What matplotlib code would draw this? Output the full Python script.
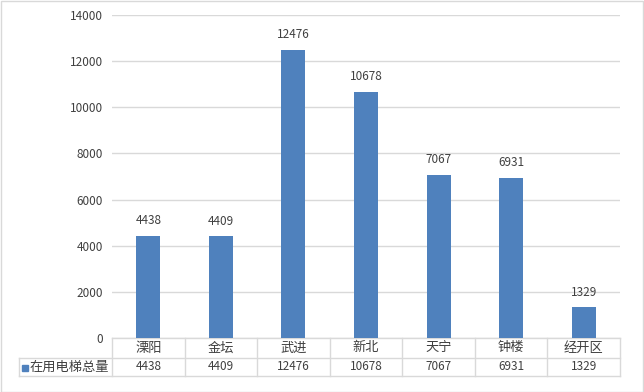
import matplotlib
matplotlib.use('Agg')
import matplotlib.pyplot as plt
from matplotlib.patches import Rectangle
from matplotlib.transforms import blended_transform_factory

plt.rcParams['font.family'] = ['Noto Sans CJK SC', 'DejaVu Sans']

districts = ['溧阳', '金坛', '武进', '新北', '天宁', '钟楼', '经开区']
elevators = [4438, 4409, 12476, 10678, 7067, 6931, 1329]
series_name = '在用电梯总量'
yticks = [0, 2000, 4000, 6000, 8000, 10000, 12000, 14000]

bar_color = '#4F81BD'
grid_color = '#D9D9D9'
text_color = '#404040'

W, H = 644, 392
fig = plt.figure(figsize=(W / 100, H / 100), dpi=100)
fig.patches.append(Rectangle((0.5 / W, 0.5 / H), 1 - 1.5 / W, 1 - 1.5 / H, transform=fig.transFigure,
                             fill=False, edgecolor=grid_color, lw=1))

left, right, top, bottom = 112, 620, 15, 338
ax = fig.add_axes([left / W, 1 - bottom / H, (right - left) / W, (bottom - top) / H])

x = list(range(len(districts)))
ax.bar(x, elevators, width=0.33, color=bar_color, zorder=3)
for xi, v in zip(x, elevators):
    ax.text(xi, v + 380, str(v), ha='center', va='bottom', fontsize=8.5, color=text_color)

ax.set_xlim(-0.5, len(districts) - 0.5)
ax.set_ylim(0, 14000)
ax.set_yticks(yticks)
ax.set_yticklabels([str(t) for t in yticks], fontsize=8.5, color=text_color)
ax.tick_params(axis='y', length=0, pad=6.5)
ax.set_xticks([])
ax.grid(axis='y', color=grid_color, lw=1, zorder=0)
for s in ax.spines.values():
    s.set_visible(False)

# data table below the axis
ax_h = bottom - top
r1 = -(358 - bottom) / ax_h
r2 = -(376 - bottom) / ax_h
tr = blended_transform_factory(ax.transData, ax.transAxes)
lx = -0.5 - (left - 19) / ((right - left) / len(districts))
line_kw = dict(color=grid_color, lw=1, transform=tr, clip_on=False)
ax.plot([-0.5, len(districts) - 0.5], [0, 0], **line_kw)
ax.plot([lx, len(districts) - 0.5], [r1, r1], **line_kw)
ax.plot([lx, len(districts) - 0.5], [r2, r2], **line_kw)
ax.plot([lx, lx], [r1, r2], **line_kw)
for i in range(len(districts) + 1):
    ax.plot([i - 0.5, i - 0.5], [0, r2], **line_kw)
for xi, name, v in zip(x, districts, elevators):
    ax.text(xi, r1 / 2, name, ha='center', va='center', fontsize=9.5, color=text_color, transform=tr)
    ax.text(xi, (r1 + r2) / 2, str(v), ha='center', va='center', fontsize=8.5, color=text_color, transform=tr)

fig.patches.append(Rectangle((22 / W, 1 - 370.5 / H), 6 / W, 6 / H, transform=fig.transFigure,
                             color=bar_color))
fig.text(29 / W, 1 - 367 / H, series_name, ha='left', va='center', fontsize=9.5, color=text_color)

fig.savefig('out.png', dpi=100)
